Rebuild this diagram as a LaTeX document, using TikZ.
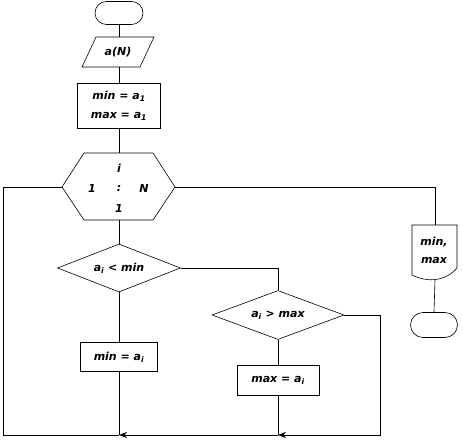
\documentclass[tikz,border=0pt]{standalone}
\usepackage{fontspec}
\setmainfont{DejaVu Sans}
\usetikzlibrary{shapes.geometric,shapes.misc,arrows.meta}
\begin{document}
\begin{tikzpicture}[x=1pt,y=-1pt,line width=0.6pt,
  lbl/.style={font=\fontsize{11}{13}\selectfont\bfseries\itshape,inner sep=0pt},
  term/.style={rounded rectangle,draw,minimum width=48pt,minimum height=23pt,inner sep=0pt},
  box/.style={lbl,draw,rectangle},
  dia/.style={lbl,draw,diamond,aspect=2.6},
  arr/.style={-{Stealth[length=8pt,width=6pt]}}]
\useasboundingbox (0,0) rectangle (463,441);
% start
\node[term] (start) at (119,13) {};
% input
\draw (82,67) -- (96,37) -- (154,37) -- (140,67) -- cycle;
\node[lbl] (input) at (118,52) {a(N)};
\coordinate (inT) at (119,37);
\coordinate (inB) at (119,67);
% init
\node[box,minimum width=83pt,minimum height=45pt,align=center,font=\fontsize{11}{19}\selectfont\bfseries\itshape] (init) at (119,105.5) {min = a\textsubscript{1}\\max = a\textsubscript{1}};
% loop hexagon
\draw (62,187) -- (84,153) -- (153,153) -- (175,187) -- (153,220) -- (84,220) -- cycle;
\node[lbl] (li) at (119,168) {i};
\node[lbl] (l1) at (92,188) {1};
\node[lbl] (lc) at (119,188) {:};
\node[lbl] (lN) at (144,188) {N};
\node[lbl] (ls) at (119,208) {1};
\coordinate (hexT) at (119,153);
\coordinate (hexB) at (119,220);
\coordinate (hexL) at (62,187);
\coordinate (hexR) at (175,187);
% decisions
\node[dia,minimum width=123pt,minimum height=48pt] (d1) at (119,268) {a\textsubscript{i} < min};
\node[dia,minimum width=132pt,minimum height=49pt] (d2) at (278,315) {a\textsubscript{i} > max};
% actions
\node[box,minimum width=77pt,minimum height=29pt] (b1) at (119,357) {min = a\textsubscript{i}};
\node[box,minimum width=82pt,minimum height=30pt] (b2) at (278,380) {max = a\textsubscript{i}};
% output document
\draw (412,225) -- (457,225) -- (457,268) .. controls (446,281) and (428,283) .. (412,275) -- cycle;
\node[lbl] (o1) at (434,242) {min,};
\node[lbl] (o2) at (434,260) {max};
\coordinate (docT) at (435,225);
\coordinate (docB) at (435,280);
% end
\node[term,minimum width=47pt,minimum height=25pt] (end) at (434,325) {};
% merge points
\coordinate (m1) at (119,435);
\coordinate (m2) at (278,435);
% connectors
\draw (start.south) -- (inT);
\draw (inB) -- (init.north);
\draw (init.south) -- (hexT);
\draw (hexB) -- (d1.north);
\draw (hexR) -- (435,187) -- (docT);
\draw (docB) -- (end.north);
\draw (d1.east) -| (d2.north);
\draw (d1.south) -- (b1.north);
\draw (b1.south) -- (m1);
\draw (d2.south) -- (b2.north);
\draw (b2.south) -- (m2);
\draw[arr] (d2.east) -- (380,315) -- (380,435) -- (m2);
\draw[arr] (m2) -- (m1);
\draw (m1) -- (3,435) -- (3,187) -- (hexL);
\end{tikzpicture}
\end{document}
